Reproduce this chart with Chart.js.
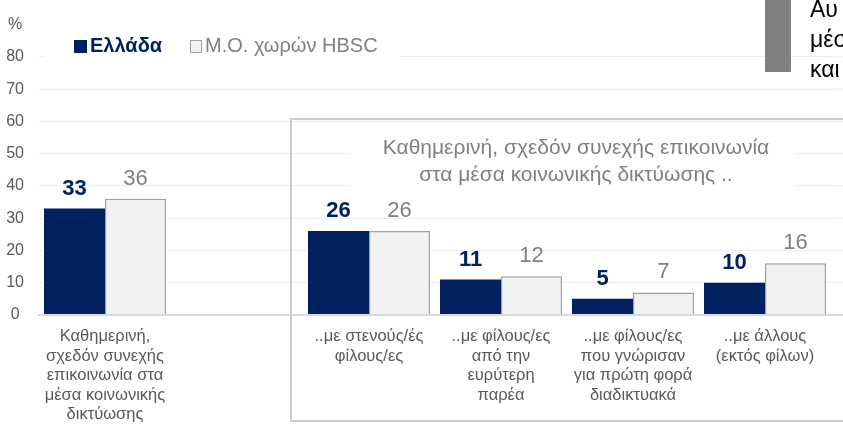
<!DOCTYPE html>
<html>
<head>
<meta charset="utf-8">
<script src="https://cdn.jsdelivr.net/npm/chart.js@4"></script>
<style>
  html, body { margin: 0; padding: 0; background: #fff; }
</style>
</head>
<body>
<canvas id="myChart" width="843" height="439"></canvas>
<script>
// categories (empty slot separates the total from the breakdown)
const categories = [
  ['Καθημερινή,', 'σχεδόν συνεχής', 'επικοινωνία στα', 'μέσα κοινωνικής', 'δικτύωσης'],
  '',
  ['..με στενούς/ές', 'φίλους/ες'],
  ['..με φίλους/ες', 'από την', 'ευρύτερη', 'παρέα'],
  ['..με φίλους/ες', 'που γνώρισαν', 'για πρώτη φορά', 'διαδικτυακά'],
  ['..με άλλους', '(εκτός φίλων)']
];
const greece = [33, null, 26, 11, 5, 10];
const hbsc = [36, null, 26, 12, 7, 16];
const seriesNames = ['Ελλάδα', 'Μ.Ο. χωρών HBSC'];
const yMax = 90;
const yUnit = '%';
const boxTitle = ['Καθημερινή, σχεδόν συνεχής επικοινωνία', 'στα μέσα κοινωνικής δικτύωσης ..'];
const sideNote = ['Αυ', 'μέσ', 'και'];

const NAVY = '#002060';
const GREY_TXT = '#808080';

Chart.defaults.font.family = "'Liberation Sans', Arial, sans-serif";

// gridline extension, framed box and its title
const decorPlugin = {
  id: 'decor',
  beforeDatasetsDraw(chart) {
    const ctx = chart.ctx;
    const y = chart.scales.y;
    const area = chart.chartArea;
    ctx.save();
    y.ticks.forEach(t => {
      if (t.value >= yMax) return;
      const py = y.getPixelForValue(t.value);
      ctx.strokeStyle = t.value === 0 ? '#D9D9D9' : '#EEEEEE';
      ctx.lineWidth = t.value === 0 ? 2 : 1;
      ctx.beginPath();
      ctx.moveTo(area.right, py);
      ctx.lineTo(chart.width, py);
      ctx.stroke();
    });
    // frame around the breakdown
    ctx.strokeStyle = '#CCCCCC';
    ctx.lineWidth = 2;
    ctx.strokeRect(291, 119, 600, 302);
    // title with white background
    ctx.fillStyle = '#fff';
    ctx.fillRect(350, 127, 445, 66);
    ctx.fillStyle = '#7F7F7F';
    ctx.font = "21px 'Liberation Sans', Arial, sans-serif";
    ctx.textAlign = 'center';
    ctx.textBaseline = 'middle';
    ctx.fillText(boxTitle[0], 576, 148);
    ctx.fillText(boxTitle[1], 576, 175);
    ctx.restore();
  },
  afterDatasetsDraw(chart) {
    const ctx = chart.ctx;
    chart.data.datasets.forEach((ds, di) => {
      const meta = chart.getDatasetMeta(di);
      meta.data.forEach((bar, i) => {
        const v = ds.data[i];
        if (v == null) return;
        ctx.save();
        ctx.font = (di === 0 ? 'bold ' : '') + "22px 'Liberation Sans', Arial, sans-serif";
        ctx.fillStyle = di === 0 ? NAVY : GREY_TXT;
        ctx.textAlign = 'center';
        ctx.textBaseline = 'middle';
        ctx.fillText(String(v), bar.x, bar.y - 20);
        ctx.restore();
      });
    });
  },
  afterDraw(chart) {
    const ctx = chart.ctx;
    ctx.save();
    // legend
    ctx.fillStyle = '#fff';
    ctx.fillRect(46, 36, 354, 22);
    ctx.fillStyle = NAVY;
    ctx.fillRect(74, 40, 13, 13);
    ctx.font = "bold 20px 'Liberation Sans', Arial, sans-serif";
    ctx.textBaseline = 'middle';
    ctx.textAlign = 'left';
    ctx.fillText(seriesNames[0], 90, 46);
    ctx.fillStyle = '#F2F2F2';
    ctx.fillRect(190, 40, 12, 12);
    ctx.strokeStyle = '#A0A0A0';
    ctx.lineWidth = 1;
    ctx.strokeRect(190.5, 40.5, 11, 12);
    ctx.fillStyle = GREY_TXT;
    ctx.font = "20px 'Liberation Sans', Arial, sans-serif";
    ctx.fillText(seriesNames[1], 205, 46);
    // side note cut off at the right edge
    ctx.fillStyle = '#808080';
    ctx.fillRect(765, 0, 26, 72);
    ctx.fillStyle = '#000';
    ctx.font = "23px 'Liberation Sans', Arial, sans-serif";
    ctx.textBaseline = 'alphabetic';
    ctx.fillText(sideNote[0], 810, 17);
    ctx.fillText(sideNote[1], 810, 47);
    ctx.fillText(sideNote[2], 810, 77);
    ctx.restore();
  }
};

const ctx = document.getElementById('myChart').getContext('2d');
const config = {
  type: 'bar',
  data: {
    labels: categories,
    datasets: [{
      label: seriesNames[0],
      data: greece,
      backgroundColor: NAVY,
      borderWidth: 0,
      categoryPercentage: 0.924,
      barPercentage: 1.0
    }, {
      label: seriesNames[1],
      data: hbsc,
      backgroundColor: '#F2F2F2',
      borderColor: '#A0A0A0',
      borderWidth: 1.5,
      categoryPercentage: 0.924,
      barPercentage: 1.0
    }]
  },
  options: {
    responsive: false,
    animation: false,
    devicePixelRatio: 1,
    layout: { padding: { top: 13, right: 12, left: 0, bottom: 0 } },
    plugins: {
      legend: { display: false },
      tooltip: { enabled: false }
    },
    scales: {
      x: {
        grid: { display: false, drawTicks: false },
        border: { color: '#D9D9D9', width: 2 },
        ticks: {
          color: '#595959',
          font: { size: 16.5, lineHeight: 1.18 },
          padding: 12,
          maxRotation: 0,
          autoSkip: false
        },
        afterFit: s => { s.height = 124; }
      },
      y: {
        min: 0,
        max: yMax,
        ticks: {
          stepSize: 10,
          padding: 15,
          crossAlign: 'center',
          color: '#595959',
          font: { size: 16 },
          callback: v => v === yMax ? yUnit : v
        },
        grid: {
          drawTicks: false,
          color: c => c.tick.value === yMax ? 'rgba(0,0,0,0)' : (c.tick.value === 0 ? '#D9D9D9' : '#EEEEEE'),
          lineWidth: c => c.tick.value === 0 ? 2 : 1
        },
        border: { display: false },
        afterFit: s => { s.width = 39; }
      }
    }
  },
  plugins: [decorPlugin]
};
const myChart = new Chart(ctx, config);
</script>
</body>
</html>
